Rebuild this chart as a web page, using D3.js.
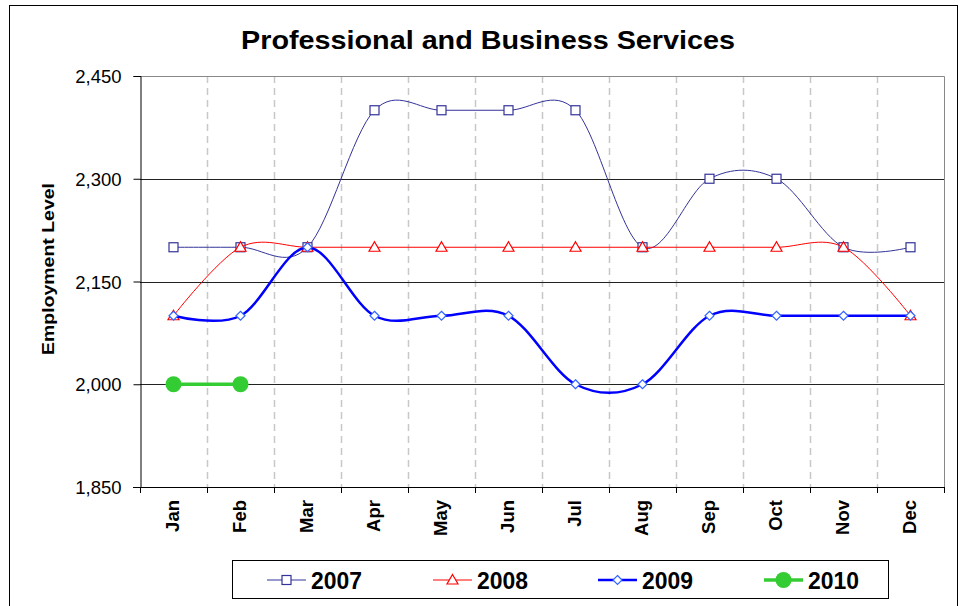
<!DOCTYPE html>
<html><head><meta charset="utf-8">
<script src="https://cdn.jsdelivr.net/npm/d3@7"></script>
<style>
body{margin:0;background:#fff;}
svg{display:block;font-family:"Liberation Sans",Arial,sans-serif;}
</style></head>
<body>
<svg id="c" width="965" height="606"></svg>
<script>
const months = ["Jan","Feb","Mar","Apr","May","Jun","Jul","Aug","Sep","Oct","Nov","Dec"];
const yTicks = [1850, 2000, 2150, 2300, 2450];
const s2007 = [2200,2200,2200,2400,2400,2400,2400,2200,2300,2300,2200,2200];
const s2008 = [2100,2200,2200,2200,2200,2200,2200,2200,2200,2200,2200,2100];
const s2009 = [2100,2100,2200,2100,2100,2100,2000,2000,2100,2100,2100,2100];
const s2010 = [2000,2000];
const seriesNames = ["2007","2008","2009","2010"];

const series = [
  {name:seriesNames[0], values:s2007, color:"#333399", width:1, marker:"square", mstroke:"#333399", mfill:"#fff"},
  {name:seriesNames[1], values:s2008, color:"#ff0000", width:1, marker:"triangle", mstroke:"#ff0000", mfill:"#fff"},
  {name:seriesNames[2], values:s2009, color:"#0000ff", width:2.5, marker:"diamond", mstroke:"#3366ff", mfill:"#fff"},
  {name:seriesNames[3], values:s2010, color:"#33cc33", width:3.5, marker:"circle", mstroke:"#33cc33", mfill:"#33cc33"}
];

const svg = d3.select("#c");
// outer frame
svg.append("rect").attr("x",9.5).attr("y",5.5).attr("width",948).attr("height",620)
  .attr("fill","none").attr("stroke","#000").attr("stroke-width",1);

const L=140, R=944, T=76, B=487;
const x = d3.scaleBand().domain(months).range([L,R]);
const y = d3.scaleLinear().domain([1850,2450]).range([B,T]);

// title
svg.append("text").attr("x",241).attr("y",49)
  .attr("font-size",26).attr("font-weight","bold")
  .attr("textLength",494).attr("lengthAdjust","spacingAndGlyphs")
  .text("Professional and Business Services");

// vertical dashed gridlines
const g = svg.append("g");
g.selectAll("line.v").data(months.slice(1)).join("line")
  .attr("x1",d=>Math.round(x(d))+0.5).attr("x2",d=>Math.round(x(d))+0.5)
  .attr("y1",T).attr("y2",B)
  .attr("stroke","#c8c8c8").attr("stroke-width",1.5).attr("stroke-dasharray","7,5");

// horizontal gridlines
g.selectAll("line.h").data(yTicks.slice(1,4)).join("line")
  .attr("x1",L).attr("x2",R)
  .attr("y1",d=>Math.round(y(d))+0.5).attr("y2",d=>Math.round(y(d))+0.5)
  .attr("stroke","#222").attr("stroke-width",1);

// plot border top/right
g.append("path").attr("d",`M${L},${T+0.5}H${R+0.5}V${B}`).attr("fill","none").attr("stroke","#888").attr("stroke-width",1);

// y axis
const yAxis = d3.axisLeft(y).tickValues(yTicks).tickSize(7).tickFormat(d3.format(","));
const ya = svg.append("g").attr("transform",`translate(${L+0.5},0)`).call(yAxis);
ya.select(".domain").attr("stroke","#000");
ya.selectAll(".tick line").attr("stroke","#000");
ya.selectAll(".tick text").attr("font-size",18.5).attr("fill","#000").attr("x",-19).attr("dy","0.36em")
  .attr("font-family","'Liberation Sans',Arial,sans-serif");

// x axis
svg.append("line").attr("x1",L-7).attr("x2",R).attr("y1",B+0.5).attr("y2",B+0.5).attr("stroke","#000");
const bounds = months.map(m=>x(m)).concat([R]);
svg.selectAll("line.xt").data(bounds).join("line")
  .attr("x1",d=>Math.round(d)+0.5).attr("x2",d=>Math.round(d)+0.5)
  .attr("y1",B).attr("y2",B+6).attr("stroke","#000");
svg.selectAll("text.xl").data(months).join("text")
  .attr("transform",d=>`translate(${x(d)+x.bandwidth()/2+5.5},500) rotate(-90)`)
  .attr("text-anchor","end").attr("font-size",18.5).attr("font-weight","bold").text(d=>d);

// y label
svg.append("text").attr("transform","translate(54,269) rotate(-90)").attr("text-anchor","middle")
  .attr("font-size",16).attr("font-weight","bold")
  .attr("textLength",172).attr("lengthAdjust","spacingAndGlyphs")
  .text("Employment Level");

const cx = i => x(months[i]) + x.bandwidth()/2;
const line = d3.line().x((d,i)=>cx(i)).y(d=>y(d)).curve(d3.curveCatmullRom.alpha(0));

function drawMarker(sel, type, px, py, s){
  if(type==="square"){
    sel.append("rect").attr("x",px-4.5).attr("y",py-4.5).attr("width",9).attr("height",9)
      .attr("fill",s.mfill).attr("stroke",s.mstroke).attr("stroke-width",1.2);
  } else if(type==="triangle"){
    sel.append("path").attr("d",`M${px},${py-5.5}L${px+5.5},${py+4}L${px-5.5},${py+4}Z`)
      .attr("fill",s.mfill).attr("stroke",s.mstroke).attr("stroke-width",1.2);
  } else if(type==="diamond"){
    sel.append("path").attr("d",`M${px},${py-4.5}L${px+4.5},${py}L${px},${py+4.5}L${px-4.5},${py}Z`)
      .attr("fill",s.mfill).attr("stroke",s.mstroke).attr("stroke-width",1.2);
  } else {
    sel.append("circle").attr("cx",px).attr("cy",py).attr("r",8).attr("fill",s.mfill);
  }
}

series.forEach(s=>{
  const gs = svg.append("g");
  gs.append("path").datum(s.values).attr("d",line).attr("fill","none")
    .attr("stroke",s.color).attr("stroke-width",s.width);
  s.values.forEach((v,i)=>drawMarker(gs, s.marker, cx(i), y(v), s));
});

// legend
const lg = svg.append("g");
lg.append("rect").attr("x",232.5).attr("y",560.5).attr("width",656).attr("height",38)
  .attr("fill","#fff").attr("stroke","#000");
const lx = [267, 433, 598, 764];
series.forEach((s,i)=>{
  const ly = 580;
  lg.append("line").attr("x1",lx[i]).attr("x2",lx[i]+39).attr("y1",ly).attr("y2",ly)
    .attr("stroke",s.color).attr("stroke-width",s.width);
  drawMarker(lg, s.marker, lx[i]+19.5, ly, s);
  lg.append("text").attr("x",lx[i]+44).attr("y",ly+8.5).attr("font-size",23).attr("font-weight","bold")
    .attr("textLength",51).attr("lengthAdjust","spacingAndGlyphs").text(s.name);
});
</script>
</body></html>
